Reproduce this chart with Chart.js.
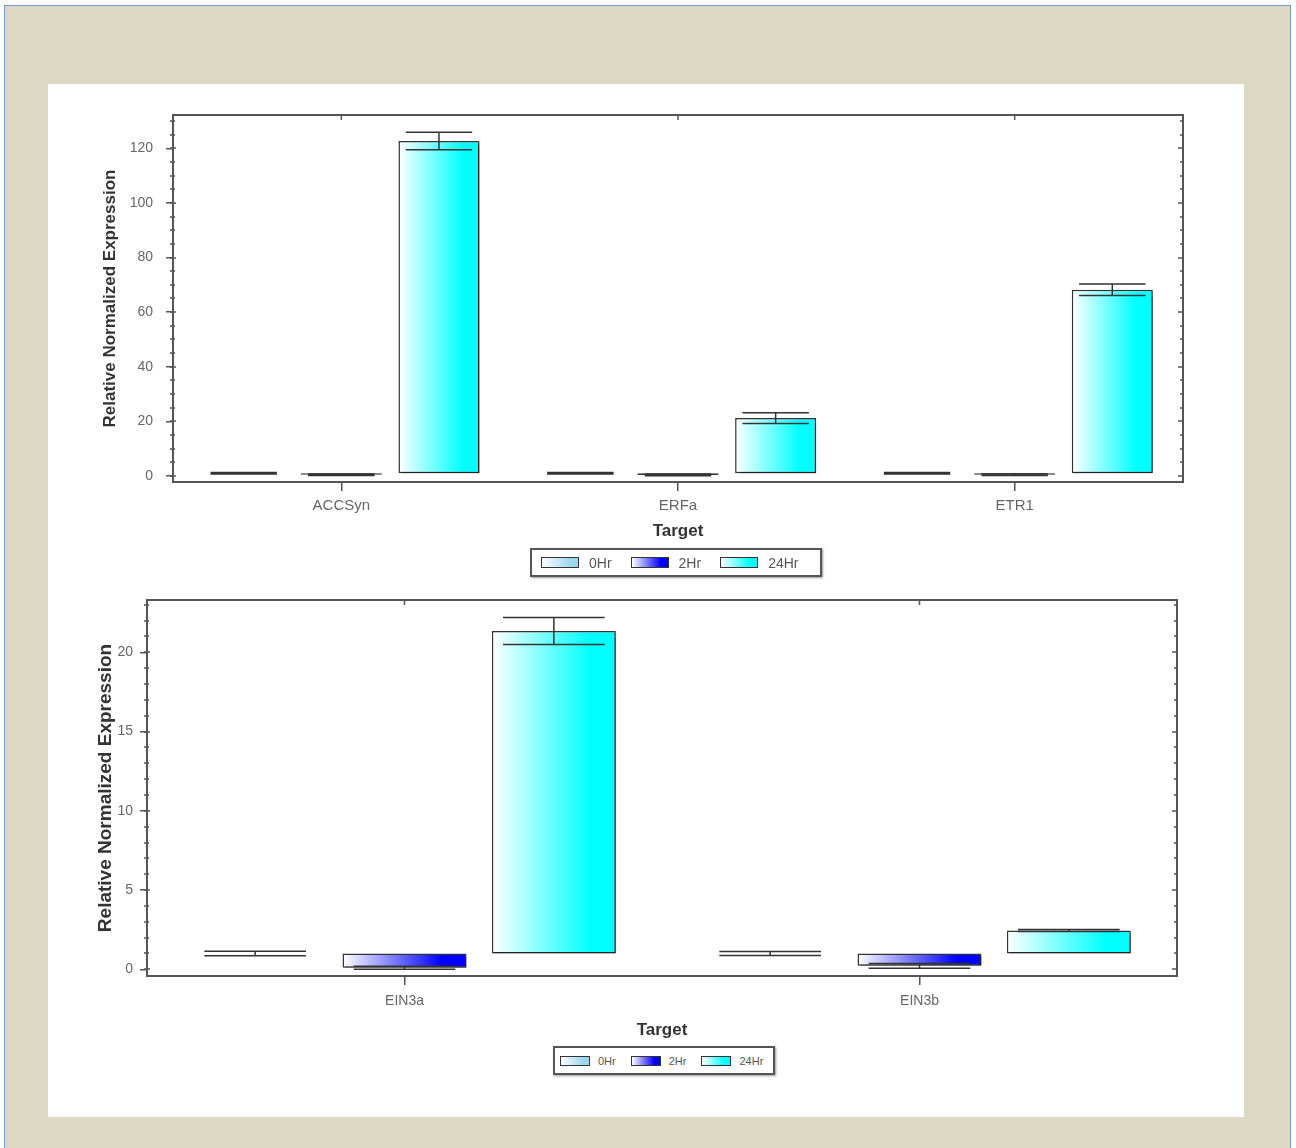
<!DOCTYPE html>
<html>
<head>
<meta charset="utf-8">
<script src="https://cdn.jsdelivr.net/npm/chart.js@4.4.1/dist/chart.umd.min.js"></script>
<style>
  body { margin:0; background:#fff; font-family:"Liberation Sans", Arial, sans-serif; }
  #frame { position:absolute; left:4px; top:5px; width:1285px; height:1160px; background:#ddd8c3; border:1px solid #7a9ad6; }
  #panel { position:absolute; left:48px; top:84px; width:1196px; height:1033px; background:#fff; }
  canvas { position:absolute; }
  .legend { position:absolute; border:2px solid #555; box-shadow:1px 1px 2px #999; background:#fff;
            display:flex; align-items:center; box-sizing:border-box; color:#555; }
  .legend .item { display:flex; align-items:center; }
  .legend .sw { display:inline-block; border:1.5px solid #333; box-sizing:border-box; }
</style>
</head>
<body>
<div id="frame"></div>
<div id="panel"></div>
<canvas id="c1" width="1196" height="460" style="left:48px;top:84px"></canvas>
<canvas id="c2" width="1196" height="464" style="left:48px;top:580px"></canvas>
<div id="leg1" class="legend" style="left:530px;top:548px;width:292px;height:29px;padding-left:9px;font-size:14px"></div>
<div id="leg2" class="legend" style="left:553px;top:1046px;width:222px;height:29px;padding-left:5px;font-size:11px"></div>
<script>
// ── data ────────────────────────────────────────────────────
const series = ['0Hr', '2Hr', '24Hr'];
const baseLine = 1;   // bars are drawn from the calibrator level (1)

const targets1 = ['ACCSyn', 'ERFa', 'ETR1'];
const hr0_1  = [1, 1, 1];
const err0_1 = [0.25, 0.25, 0.25];
const hr2_1  = [0.45, 0.4, 0.5];
const err2_1 = [0.3, 0.3, 0.3];
const hr24_1  = [122.7, 21.2, 68.2];
const err24_1 = [3.2, 2.0, 2.1];
const yTicks1 = [0, 20, 40, 60, 80, 100, 120];

const targets2 = ['EIN3a', 'EIN3b'];
const hr0_2  = [1, 1];
const err0_2 = [0.14, 0.13];
const hr2_2  = [0.1, 0.22];
const err2_2 = [0.1, 0.15];
const hr24_2  = [21.35, 2.45];
const err24_2 = [0.85, 0.06];
const yTicks2 = [0, 5, 10, 15, 20];

// ── colours ─────────────────────────────────────────────────
const grad = [
  ['#ffffff', '#9ad6ee'],
  ['#ffffff', '#0000ff'],
  ['#ffffff', '#00ffff']
];

// ── plugins ─────────────────────────────────────────────────
const barLook = {
  id: 'barLook',
  beforeDatasetDraw(chart, args) {
    const ctx = chart.ctx;
    const cols = grad[args.index];
    args.meta.data.forEach(el => {
      const { x, width } = el.getProps(['x', 'width'], true);
      const g = ctx.createLinearGradient(x - width / 2, 0, x + width / 2, 0);
      g.addColorStop(0, cols[0]);
      g.addColorStop(0.8, cols[1]);
      g.addColorStop(1, cols[1]);
      // shared options are frozen, give each bar its own copy
      el.options = { ...el.options, backgroundColor: g };
    });
    ctx.save();
    ctx.shadowColor = 'rgba(0,0,0,0.35)';
    ctx.shadowOffsetX = 2;
    ctx.shadowOffsetY = 2;
    ctx.shadowBlur = 1;
  },
  afterDatasetDraw(chart) { chart.ctx.restore(); }
};

const errBars = {
  id: 'errBars',
  afterDatasetsDraw(chart) {
    const ctx = chart.ctx, y = chart.scales.y;
    ctx.save();
    ctx.strokeStyle = '#333';
    ctx.lineWidth = 1.5;
    chart.data.datasets.forEach((ds, i) => {
      chart.getDatasetMeta(i).data.forEach((el, j) => {
        const v = ds.data[j][1], e = ds.err[j];
        const { x, width } = el.getProps(['x', 'width'], true);
        const hw = width * 0.41;
        const yHi = y.getPixelForValue(v + e), yLo = y.getPixelForValue(v - e);
        ctx.beginPath();
        ctx.moveTo(x, yHi); ctx.lineTo(x, yLo);
        ctx.moveTo(x - hw, yHi); ctx.lineTo(x + hw, yHi);
        ctx.moveTo(x - hw, yLo); ctx.lineTo(x + hw, yLo);
        ctx.stroke();
      });
    });
    ctx.restore();
  }
};

const frame = {
  id: 'frame',
  afterDraw(chart, args, opts) {
    const ctx = chart.ctx, a = chart.chartArea, y = chart.scales.y, x = chart.scales.x;
    ctx.save();
    ctx.strokeStyle = '#555';
    ctx.lineWidth = 2;
    ctx.strokeRect(a.left, a.top, a.right - a.left, a.bottom - a.top);
    ctx.lineWidth = 1.5;
    ctx.beginPath();
    // minor / major ticks on left and right sides
    for (let v = Math.ceil(y.min / opts.minor) * opts.minor; v <= y.max; v += opts.minor) {
      const p = Math.round(y.getPixelForValue(v));
      const major = Math.abs(v % opts.major) < 1e-6;
      ctx.moveTo(a.left - 3, p); ctx.lineTo(a.left + (major ? 3 : 2), p);
      ctx.moveTo(a.right - (major ? 5 : 3), p); ctx.lineTo(a.right, p);
    }
    // small ticks on top at category centres
    x.ticks.forEach((t, i) => {
      const p = x.getPixelForTick(i);
      ctx.moveTo(p, a.top); ctx.lineTo(p, a.top + 5);
    });
    ctx.stroke();
    ctx.restore();
  }
};

// ── chart builder ───────────────────────────────────────────
function makeChart(id, labels, vals, errs, yTicks, o) {
  const datasets = series.map((s, i) => ({
    label: s,
    data: vals[i].map(v => [baseLine, v]),
    err: errs[i],
    borderColor: '#333',
    borderWidth: 1.5,
    borderSkipped: false,
    categoryPercentage: 0.87,
    barPercentage: 0.83
  }));
  return new Chart(document.getElementById(id), {
    type: 'bar',
    data: { labels, datasets },
    options: {
      responsive: false,
      animation: false,
      events: [],
      layout: { padding: o.pad },
      plugins: {
        legend: { display: false },
        tooltip: { enabled: false },
        frame: { minor: o.minor, major: o.major }
      },
      scales: {
        x: {
          grid: { offset: false, drawOnChartArea: false, tickLength: 9, color: '#555', lineWidth: 1.5 },
          border: { color: '#555', width: 2 },
          ticks: { color: '#666', font: { size: o.xFont, family: 'Liberation Sans' }, padding: o.xPad },
          title: { display: true, text: 'Target', color: '#333', padding: { top: 0, bottom: o.tPad },
                   font: { size: o.tFont, weight: 'bold', family: 'Liberation Sans' } },
          afterFit: s => { s.height = o.xH; }
        },
        y: {
          min: o.min, max: o.max,
          afterBuildTicks: s => { s.ticks = yTicks.map(v => ({ value: v })); },
          grid: { drawOnChartArea: false, tickLength: 7, color: '#555', lineWidth: 1.5 },
          border: { color: '#555', width: 2 },
          ticks: { color: '#666', font: { size: o.yFont, family: 'Liberation Sans' }, padding: o.yPad },
          title: { display: true, text: 'Relative Normalized Expression', color: '#333', padding: 0,
                   font: { size: o.yTFont, weight: 'bold', family: 'Liberation Sans' } },
          afterFit: s => { s.width = o.yW; }
        }
      }
    },
    plugins: [barLook, errBars, frame]
  });
}

makeChart('c1', targets1, [hr0_1, hr2_1, hr24_1], [err0_1, err2_1, err24_1], yTicks1, {
  pad: { left: 52, top: 31, right: 61, bottom: 0 }, yW: 73, xH: 62,
  min: -2.2, max: 132.2, minor: 5, major: 20,
  xFont: 15, yFont: 14, xPad: 6, yPad: 13, tFont: 17, tPad: 2, yTFont: 17
});

makeChart('c2', targets2, [hr0_2, hr2_2, hr24_2], [err0_2, err2_2, err24_2], yTicks2, {
  pad: { left: 46, top: 20, right: 67, bottom: 0 }, yW: 53, xH: 68,
  min: -0.42, max: 23.3, minor: 1, major: 5,
  xFont: 14, yFont: 14, xPad: 8, yPad: 7, tFont: 17, tPad: 3, yTFont: 19
});

// ── legends ─────────────────────────────────────────────────
function makeLegend(id, sw, gap, sp) {
  const el = document.getElementById(id);
  el.innerHTML = series.map((s, i) =>
    `<span class="item" style="margin-right:${gap}px"><span class="sw" style="width:${sw[0]}px;height:${sw[1]}px;` +
    `background:linear-gradient(to right, ${grad[i][0]}, ${grad[i][1]} 80%)"></span>` +
    `<span style="margin-left:${sp}px">${s}</span></span>`).join('');
}
makeLegend('leg1', [38, 11], 19, 10);
makeLegend('leg2', [30, 10], 15, 8);
</script>
</body>
</html>
